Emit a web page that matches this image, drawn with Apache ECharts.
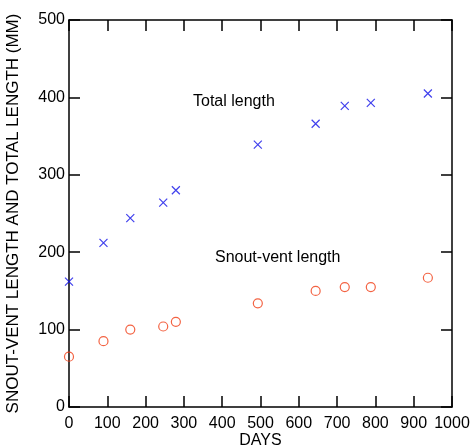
<!DOCTYPE html>
<html><head><meta charset="utf-8">
<script src="https://cdn.jsdelivr.net/npm/echarts@6/dist/echarts.min.js"></script>
<style>html,body{margin:0;padding:0;background:#fff}#c{width:471px;height:448px}</style>
</head><body><div id="c"></div>
<script>
const days = [0, 90, 160, 246, 279, 493, 644, 720, 788, 937];
const totalLength = [162, 212, 244, 264, 280, 339, 366, 389, 393, 405];
const snoutVent = [65, 85, 100, 104, 110, 134, 150, 155, 155, 167];
const xTicks = [0, 100, 200, 300, 400, 500, 600, 700, 800, 900, 1000];
const yTicks = [0, 100, 200, 300, 400, 500];

const F = 'Liberation Sans, Arial, Helvetica, sans-serif';
const chart = echarts.init(document.getElementById('c'));
const axisCommon = {
  type: 'value', min: 0,
  axisLine: {show: true, onZero: false, lineStyle: {color: '#000', width: 1.5}},
  axisTick: {show: true, inside: true, length: 11, lineStyle: {color: '#000', width: 1.5}},
  splitLine: {show: false}
};
chart.setOption({
  animation: false,
  backgroundColor: '#fff',
  grid: {left: 69, right: 19, top: 20, bottom: 41, containLabel: false, outerBoundsMode: 'none'},
  xAxis: [
    Object.assign({}, axisCommon, {position: 'bottom', max: 1000, interval: 100,
      name: 'DAYS', nameLocation: 'middle', nameGap: 26, nameMoveOverlap: false,
      nameTextStyle: {fontFamily: F, fontSize: 16, color: '#000'},
      axisLabel: {fontFamily: F, fontSize: 16, color: '#000', margin: 9,
        formatter: v => xTicks.includes(v) ? String(v) : ''}}),
    Object.assign({}, axisCommon, {position: 'top', max: 1000, interval: 100, axisLabel: {show: false}})
  ],
  yAxis: [
    Object.assign({}, axisCommon, {position: 'left', max: 500, interval: 100,
      name: 'SNOUT-VENT LENGTH AND TOTAL LENGTH (MM)', nameLocation: 'middle', nameGap: 47, nameMoveOverlap: false,
      nameTextStyle: {fontFamily: F, fontSize: 17, color: '#000'},
      axisLabel: {fontFamily: F, fontSize: 16, color: '#000', margin: 4,
        formatter: v => yTicks.includes(v) ? String(v) : ''}}),
    Object.assign({}, axisCommon, {position: 'right', max: 500, interval: 100, axisLabel: {show: false}})
  ],
  series: [
    {type: 'scatter', name: 'Total length', xAxisIndex: 0, yAxisIndex: 0,
      data: days.map((d, i) => [d, totalLength[i]]),
      symbol: 'path://M0,0L10,10M10,0L0,10', symbolSize: 8,
      itemStyle: {color: 'none', borderColor: '#1010e8', borderWidth: 1.2}},
    {type: 'scatter', name: 'Snout-vent length', xAxisIndex: 0, yAxisIndex: 0,
      data: days.map((d, i) => [d, snoutVent[i]]),
      symbol: 'circle', symbolSize: 9,
      itemStyle: {color: 'none', borderColor: '#f03c14', borderWidth: 1.2}}
  ],
  graphic: [
    {type: 'text', left: 193, top: 94, style: {text: 'Total length', font: '16px ' + F, fill: '#000'}},
    {type: 'text', left: 215, top: 250, style: {text: 'Snout-vent length', font: '16px ' + F, fill: '#000'}}
  ]
});
</script>
</body></html>
